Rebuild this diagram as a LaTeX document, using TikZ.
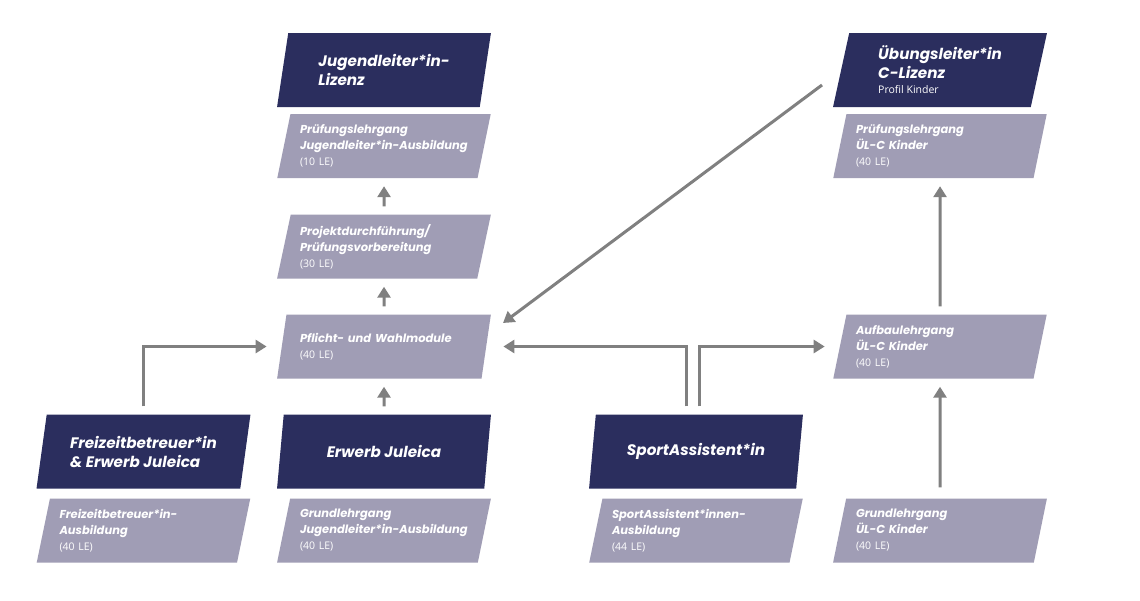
\documentclass[tikz,border=0pt]{standalone}
\usepackage{fontspec}
\setmainfont{Poppins}
\newfontfamily\umfangfont{Open Sans}
\usetikzlibrary{shapes.geometric,arrows.meta}
\definecolor{navy}{RGB}{43,46,94}
\definecolor{lila}{RGB}{160,157,181}
\definecolor{pfeilgrau}{RGB}{128,128,128}
\newcommand{\umfang}[1]{{\umfangfont\mdseries\upshape\fontsize{10.5}{14}\selectfont(#1 LE)}}
\tikzset{
	lizenz/.style={trapezium, trapezium left angle=78, trapezium right angle=102, trapezium stretches=true,
		fill=navy, text=white, minimum width=214pt, minimum height=74pt, align=left,
		font=\bfseries\itshape\fontsize{15.2}{19}\selectfont},
	lehrgang/.style={trapezium, trapezium left angle=76, trapezium right angle=104, trapezium stretches=true,
		fill=lila, text=white, minimum width=214pt, minimum height=64pt, text width=168pt, align=left,
		font=\bfseries\itshape\fontsize{11.5}{16}\selectfont},
	pfeil/.style={draw=pfeilgrau, line width=3pt, -{Triangle[length=11pt,width=13pt]}, shorten >=8pt, shorten <=8pt}
}

\begin{document}
\begin{tikzpicture}[x=1pt,y=-1pt]
		%%%%% START %%%%%
		\useasboundingbox[fill=white] (0,0) rectangle (1140,600);
		
		% Jugendleiter*in
		\node[lizenz] (jlLizenz) at (384,70) {Jugendleiter*in-\\Lizenz};
		\node[lehrgang] (jlPruef) at (384,146) {Prüfungslehrgang\\\mbox{Jugendleiter*in-Ausbildung}\\\umfang{10}};
		\node[lehrgang] (projekt) at (384,246.5) {Projektdurchführung/\\Prüfungsvorbereitung\\\umfang{30}};
		\node[lehrgang] (module) at (384,346.5) {Pflicht- und Wahlmodule\\\umfang{40}};
		\node[lizenz] (juleica) at (384,451.5) {Erwerb Juleica};
		\node[lehrgang] (jlGrund) at (384,530.5) {Grundlehrgang\\\mbox{Jugendleiter*in-Ausbildung}\\\umfang{40}};
		
		% Freizeitbetreuer*in
		\node[lizenz] (freizeit) at (143.5,451.5) {Freizeitbetreuer*in\\\& Erwerb Juleica};
		\node[lehrgang] (fzAusb) at (143.5,530.5) {Freizeitbetreuer*in-\\Ausbildung\\\umfang{40}};
		
		% SportAssistent*in
		\node[lizenz] (sport) at (696,451.5) {SportAssistent*in};
		\node[lehrgang] (saAusb) at (696,530.5) {SportAssistent*innen-\\Ausbildung\\\umfang{44}};
		
		% Uebungsleiter*in
		\node[lizenz] (ulLizenz) at (940,70) {Übungsleiter*in\\C-Lizenz\\[-4pt]{\umfangfont\mdseries\upshape\fontsize{10.5}{14}\selectfont Profil Kinder}};
		\node[lehrgang] (ulPruef) at (940,146) {Prüfungslehrgang\\ÜL-C Kinder\\\umfang{40}};
		\node[lehrgang] (aufbau) at (940,346.5) {Aufbaulehrgang\\ÜL-C Kinder\\\umfang{40}};
		\node[lehrgang] (ulGrund) at (940,530.5) {Grundlehrgang\\ÜL-C Kinder\\\umfang{40}};
		
		% Pfeile
		\draw[pfeil] (projekt) -- (jlPruef);
		\draw[pfeil] (module) -- (projekt);
		\draw[pfeil] (juleica) -- (module);
		\draw[pfeil, shorten >=15pt] (freizeit) |- (module);
		\draw[pfeil, shorten >=0pt] ([xshift=-10pt]sport.north) |- ([xshift=17pt]module.east);
		\draw[pfeil, shorten >=0pt] ([xshift=3pt]sport.north) |- ([xshift=-15pt]aufbau.west);
		\draw[pfeil, shorten <=0pt, shorten >=0pt] ([shift={(-118,15)}]ulLizenz.center) -- ([shift={(119,-23.5)}]module.center);
		\draw[pfeil] (aufbau) -- (ulPruef);
		\draw[pfeil, shorten <=11pt] (ulGrund) -- (aufbau);
		%%%%% END %%%%%
\end{tikzpicture}
\end{document}
